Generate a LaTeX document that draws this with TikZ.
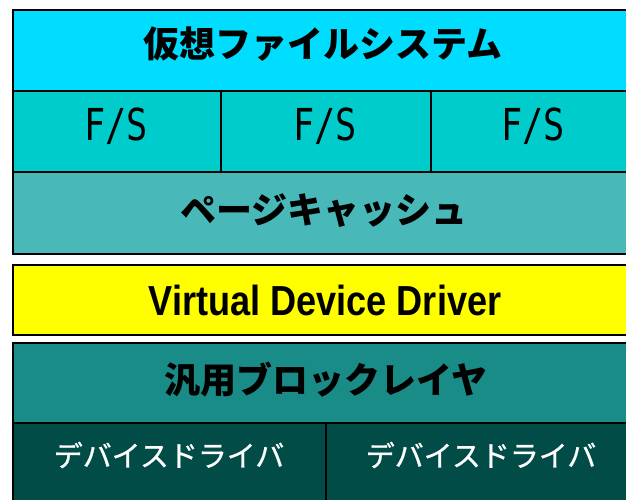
\documentclass[tikz,border=0pt]{standalone}
\usepackage{fontspec}
\newfontfamily\jp{Noto Sans CJK JP}
\newfontfamily\jpm{Noto Sans CJK JP}[FakeBold=0.8]
\newfontfamily\mono{DejaVu Sans Mono}
\setmainfont{Liberation Sans}
\definecolor{cTop}{HTML}{00DDFF}
\definecolor{cFS}{HTML}{00CCCC}
\definecolor{cPC}{HTML}{48B8B8}
\definecolor{cVD}{HTML}{FFFF00}
\definecolor{cBL}{HTML}{1A8C88}
\definecolor{cDD}{HTML}{024C48}
\begin{document}
\begin{tikzpicture}[x=1pt,y=-1pt,
  layer/.style={draw=black,line width=2pt,anchor=north west,inner sep=0pt,minimum height=#1},
  jptxt/.style={font=\jp\bfseries\fontsize{36}{36}\selectfont,inner sep=0pt},
  fstxt/.style={font=\mono\fontsize{44}{44}\selectfont,inner sep=0pt,xscale=0.8},
  ddtxt/.style={font=\jpm\fontsize{29}{29}\selectfont,inner sep=0pt,text=white}]
\useasboundingbox (0,0) rectangle (626,499);
\clip (0,0) rectangle (626,499);
\fill[white] (0,0) rectangle (626,499);
% boxes
\node[layer=81pt,fill=cTop,minimum width=624pt] (vfs) at (12,9) {};
\node[layer=81pt,fill=cFS,minimum width=208pt] (fs1) at (12,90) {};
\node[layer=81pt,fill=cFS,minimum width=210pt] (fs2) at (220,90) {};
\node[layer=81pt,fill=cFS,minimum width=206pt] (fs3) at (430,90) {};
\node[layer=82pt,fill=cPC,minimum width=624pt] (pc) at (12,171) {};
\node[layer=70pt,fill=cVD,minimum width=624pt] (vdd) at (12,264) {};
\node[layer=80pt,fill=cBL,minimum width=624pt] (blk) at (12,342) {};
\node[layer=100pt,fill=cDD,minimum width=313pt] (dd1) at (12,422) {};
\node[layer=100pt,fill=cDD,minimum width=311pt] (dd2) at (325,422) {};
% labels
\node[jptxt] (vfsL) at (323,44) {仮想ファイルシステム};
\node[fstxt] (fs1L) at (116,126) {F/S};
\node[fstxt] (fs2L) at (325,126) {F/S};
\node[fstxt] (fs3L) at (533,126) {F/S};
\node[jptxt] (pcL) at (324,211) {ページキャッシュ};
\node[font=\bfseries\fontsize{42}{42}\selectfont,inner sep=0pt,xscale=0.86] (vddL) at (325,300) {Virtual Device Driver};
\node[jptxt] (blkL) at (326,380) {汎用ブロックレイヤ};
\node[ddtxt] (dd1L) at (169,455) {デバイスドライバ};
\node[ddtxt] (dd2L) at (481,455) {デバイスドライバ};
\end{tikzpicture}
\end{document}
